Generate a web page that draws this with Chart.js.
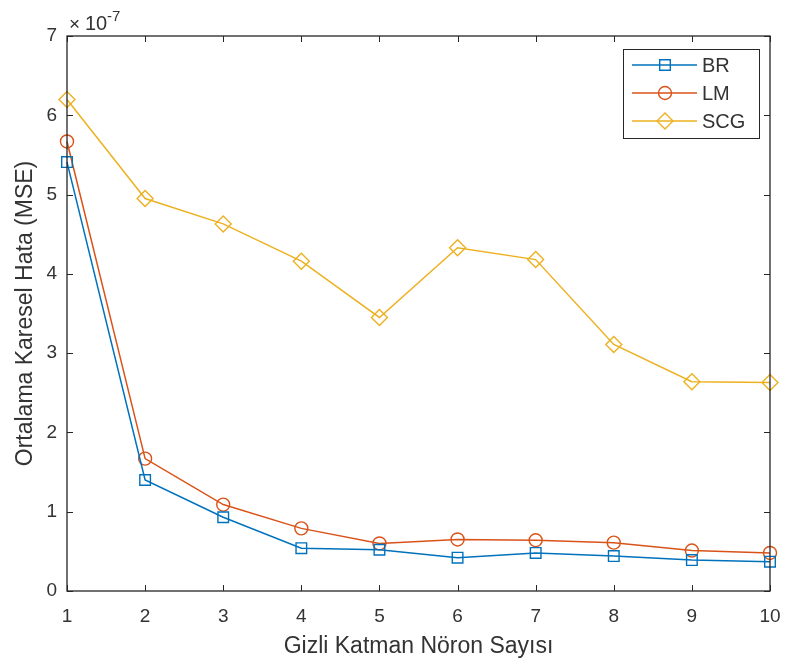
<!DOCTYPE html>
<html>
<head>
<meta charset="utf-8">
<script src="https://cdn.jsdelivr.net/npm/chart.js@4.4.0/dist/chart.umd.min.js"></script>
<style>
  html, body { margin: 0; padding: 0; background: #fff; }
  #wrap { width: 787px; height: 666px; }
</style>
</head>
<body>
<div id="wrap"><canvas id="c" width="787" height="666"></canvas></div>
<script>
// ---- data (values in units of 1e-7) ----
const neuronCounts = [1, 2, 3, 4, 5, 6, 7, 8, 9, 10];
const brValues  = [5.41, 1.40, 0.93, 0.54, 0.52, 0.42, 0.48, 0.44, 0.39, 0.37];
const lmValues  = [5.67, 1.67, 1.09, 0.79, 0.60, 0.65, 0.64, 0.61, 0.51, 0.48];
const scgValues = [6.20, 4.95, 4.63, 4.16, 3.45, 4.33, 4.18, 3.11, 2.64, 2.63];
const seriesNames = ['BR', 'LM', 'SCG'];
const yTickValues = [0, 1, 2, 3, 4, 5, 6, 7];
const xTickValues = [1, 2, 3, 4, 5, 6, 7, 8, 9, 10];
const exponentLabel = '-7';
const xTitle = 'Gizli Katman Nöron Sayısı';
const yTitle = 'Ortalama Karesel Hata (MSE)';

const FONT = '"Liberation Sans", Arial, Helvetica, sans-serif';
const AXIS = '#262626';
const TEXT = '#333333';
const COLORS = ['#0072BD', '#D95319', '#EDB120'];
const STYLES = ['rect', 'circle', 'rectRot'];
const RADII = [7.5, 6.5, 8];

function toPoints(vals) { return neuronCounts.map((x, i) => ({ x: x, y: vals[i] })); }
const allValues = [brValues, lmValues, scgValues];

const datasets = allValues.map((vals, i) => ({
  label: seriesNames[i],
  data: toPoints(vals),
  borderColor: COLORS[i],
  backgroundColor: COLORS[i],
  borderWidth: 1.5,
  pointStyle: STYLES[i],
  pointRadius: RADII[i],
  pointHoverRadius: RADII[i],
  pointBorderColor: COLORS[i],
  pointBackgroundColor: 'rgba(0,0,0,0)',
  pointBorderWidth: 1.4,
  tension: 0,
  clip: false
}));

function drawMarker(ctx, style, x, y, r, color) {
  ctx.save();
  ctx.strokeStyle = color;
  ctx.lineWidth = 1.4;
  ctx.beginPath();
  if (style === 'rect') {
    const s = Math.SQRT1_2 * r;
    ctx.rect(x - s, y - s, 2 * s, 2 * s);
  } else if (style === 'circle') {
    ctx.arc(x, y, r, 0, Math.PI * 2);
  } else {
    ctx.moveTo(x, y - r); ctx.lineTo(x + r, y); ctx.lineTo(x, y + r); ctx.lineTo(x - r, y); ctx.closePath();
  }
  ctx.stroke();
  ctx.restore();
}

const frame = {
  id: 'frame',
  afterDatasetsDraw(chart) {
    const ctx = chart.ctx;
    const a = chart.chartArea;
    const xs = chart.scales.x, ys = chart.scales.y;
    ctx.save();
    ctx.strokeStyle = AXIS;
    ctx.lineWidth = 1.3;
    ctx.strokeRect(a.left, a.top, a.right - a.left, a.bottom - a.top);
    const tl = 6;
    ctx.beginPath();
    xTickValues.forEach(v => {
      const px = Math.round(xs.getPixelForValue(v)) + 0.5;
      ctx.moveTo(px, a.bottom); ctx.lineTo(px, a.bottom - tl);
      ctx.moveTo(px, a.top); ctx.lineTo(px, a.top + tl);
    });
    yTickValues.forEach(v => {
      const py = Math.round(ys.getPixelForValue(v)) + 0.5;
      ctx.moveTo(a.left, py); ctx.lineTo(a.left + tl, py);
      ctx.moveTo(a.right, py); ctx.lineTo(a.right - tl, py);
    });
    ctx.lineWidth = 1;
    ctx.stroke();

    // exponent multiplier
    ctx.fillStyle = TEXT;
    ctx.textBaseline = 'alphabetic';
    ctx.textAlign = 'left';
    ctx.font = '19px ' + FONT;
    ctx.fillText('\u00d7', a.left + 2, 30);
    ctx.font = '20px ' + FONT;
    ctx.fillText('10', a.left + 18, 30);
    ctx.font = '15px ' + FONT;
    ctx.fillText(exponentLabel, a.left + 40, 21);

    // legend
    const lx = 623, ly = 49, lw = 136, lh = 89;
    ctx.fillStyle = '#fff';
    ctx.fillRect(lx, ly, lw, lh);
    ctx.strokeStyle = AXIS;
    ctx.lineWidth = 1;
    ctx.strokeRect(lx + 0.5, ly + 0.5, lw, lh);
    const rows = [65, 93, 121];
    seriesNames.forEach((name, i) => {
      const y = rows[i];
      ctx.strokeStyle = COLORS[i];
      ctx.lineWidth = 1.5;
      ctx.beginPath();
      ctx.moveTo(632, y); ctx.lineTo(697, y);
      ctx.stroke();
      drawMarker(ctx, STYLES[i], 665, y, RADII[i], COLORS[i]);
      ctx.fillStyle = TEXT;
      ctx.font = '20px ' + FONT;
      ctx.textAlign = 'left';
      ctx.textBaseline = 'middle';
      ctx.fillText(name, 702, y + 1);
    });
    ctx.restore();
  }
};

new Chart(document.getElementById('c'), {
  type: 'line',
  data: { datasets: datasets },
  options: {
    responsive: false,
    animation: false,
    devicePixelRatio: 1,
    layout: { padding: { top: 36, right: 17, left: 0, bottom: 0 } },
    plugins: { legend: { display: false }, tooltip: { enabled: false } },
    scales: {
      x: {
        type: 'linear',
        min: 1, max: 10,
        afterBuildTicks: s => { s.ticks = xTickValues.map(v => ({ value: v })); },
        afterFit: s => { s.height = 75; s.paddingLeft = 0; s.paddingRight = 0; },
        grid: { display: false, drawTicks: false },
        border: { display: false },
        ticks: { color: TEXT, font: { family: FONT, size: 19 }, padding: 14, maxRotation: 0, autoSkip: false },
        title: { display: true, text: xTitle, color: TEXT, font: { family: FONT, size: 23 }, padding: { top: 0, bottom: 6 } }
      },
      y: {
        type: 'linear',
        min: 0, max: 7,
        afterBuildTicks: s => { s.ticks = yTickValues.map(v => ({ value: v })); },
        afterFit: s => { s.width = 67; s.paddingTop = 0; s.paddingBottom = 0; },
        grid: { display: false, drawTicks: false },
        border: { display: false },
        ticks: { color: TEXT, font: { family: FONT, size: 19 }, padding: 10 },
        title: { display: true, text: yTitle, color: TEXT, font: { family: FONT, size: 23 }, padding: { top: 12, bottom: 0 } }
      }
    }
  },
  plugins: [frame]
});
</script>
</body>
</html>
